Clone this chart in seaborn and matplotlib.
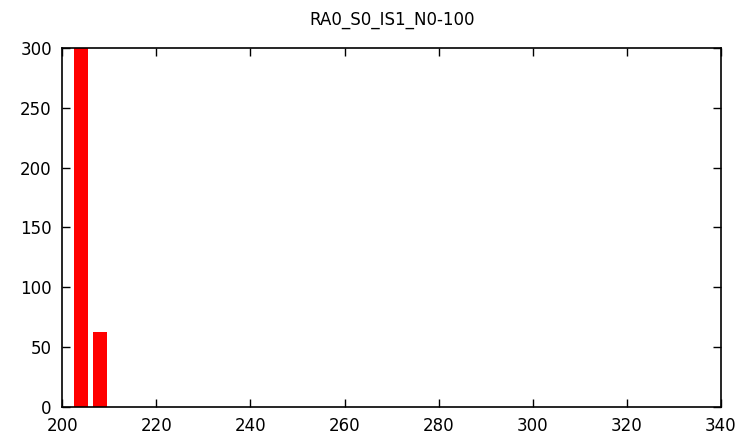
import matplotlib
matplotlib.use('Agg')
import matplotlib.pyplot as plt
import seaborn as sns

sns.set_style('white')
plt.rcParams['font.family'] = ['DejaVu Sans']

# histogram bins (centres) and counts
bin_centres = [204, 208]
counts = [300, 63]
title = 'RA0_S0_IS1_N0-100'

fig = plt.figure(figsize=(7.53, 4.38), dpi=100)
ax = fig.add_axes([0.0827, 0.0708, 0.9575 - 0.0827, 0.8904 - 0.0708])

sns.barplot(x=bin_centres, y=counts, native_scale=True, width=0.75,
            color='#ff0000', saturation=1, edgecolor='none', linewidth=0, ax=ax)

ax.set_xlim(200, 340)
ax.set_ylim(0, 300)
ax.set_xticks(range(200, 341, 20))
ax.set_yticks(range(0, 301, 50))
ax.set_title(title, fontsize=12, pad=17, color='black')
ax.set_xlabel('')
ax.set_ylabel('')
for s in ax.spines.values():
    s.set_color('black')
    s.set_linewidth(1.2)
    s.set_visible(True)
ax.tick_params(direction='in', length=6, width=1, colors='black', labelsize=12,
               top=True, right=True, bottom=True, left=True, pad=7.5)

fig.savefig('out.png', dpi=100, facecolor='white')
